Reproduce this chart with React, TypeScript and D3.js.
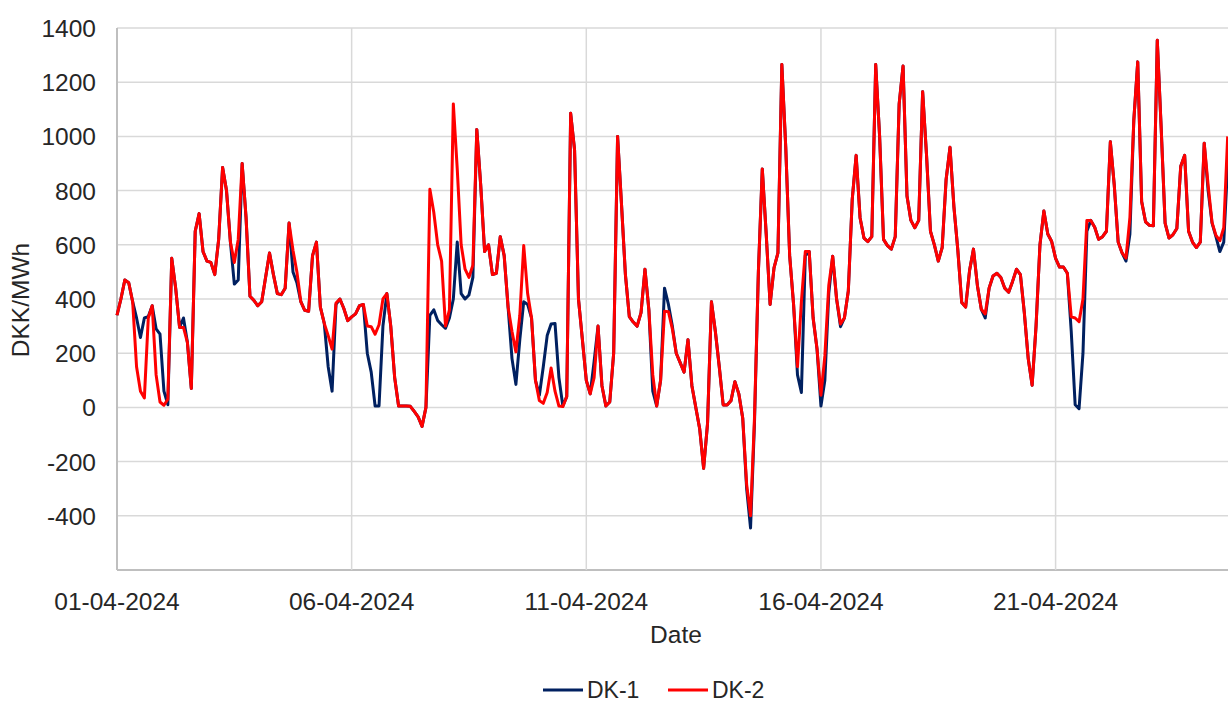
import React, { useRef, useEffect } from "react";
import * as d3 from "d3";

// two-hourly spot prices from 01-04-2024 00:00, DKK/MWh
const startDate = new Date(2024, 3, 1);
const stepHours = 2;

const dk2: number[] = [
  340, 400, 470, 460, 390, 150, 60, 35, 330, 375, 120, 20,
  8, 30, 550, 440, 295, 295, 240, 70, 650, 715, 575, 540,
  535, 490, 620, 885, 800, 610, 535, 620, 900, 700, 410, 395,
  375, 390, 480, 570, 490, 420, 416, 440, 680, 580, 500, 390,
  358, 355, 560, 610, 370, 310, 265, 215, 385, 400, 365, 320,
  334, 345, 375, 380, 300, 298, 270, 305, 400, 420, 300, 110,
  5, 5, 5, 4, -15, -35, -70, 0, 805, 720, 600, 540,
  300, 360, 1120, 880, 600, 510, 480, 525, 1025, 820, 575, 600,
  490, 495, 630, 560, 370, 280, 205, 340, 597, 420, 330, 100,
  25, 15, 55, 145, 60, 5, 3, 40, 1085, 950, 400, 250,
  100, 50, 110, 300, 80, 5, 20, 200, 1000, 750, 490, 335,
  315, 300, 350, 510, 360, 120, 5, 100, 355, 353, 290, 200,
  165, 130, 250, 80, 0, -80, -225, -60, 390, 280, 150, 9,
  9, 25, 95, 50, -40, -284, -400, -40, 500, 880, 640, 380,
  515, 570, 1265, 960, 560, 380, 150, 390, 575, 575, 330, 215,
  45, 190, 450, 558, 400, 308, 330, 430, 768, 930, 700, 625,
  612, 630, 1265, 1000, 620, 597, 584, 630, 1120, 1260, 780, 690,
  663, 690, 1165, 930, 650, 600, 540, 590, 840, 960, 740, 580,
  387, 370, 505, 584, 450, 362, 345, 440, 485, 495, 479, 440,
  425, 465, 510, 490, 350, 180, 82, 300, 600, 725, 640, 612,
  550, 518, 518, 495, 334, 330, 316, 400, 690, 690, 665, 620,
  630, 650, 980, 820, 610, 570, 551, 700, 1060, 1275, 760, 685,
  672, 670, 1355, 1030, 680, 625, 637, 660, 890, 930, 650, 610,
  590, 610, 975, 820, 683, 635, 615, 663, 1000,
];

const dk1: number[] = [
  340, 400, 470, 460, 390, 330, 258, 330, 335, 375, 290, 270,
  60, 10, 550, 440, 295, 330, 240, 70, 650, 715, 575, 540,
  535, 490, 620, 885, 800, 610, 455, 470, 900, 700, 410, 395,
  375, 390, 480, 570, 490, 420, 416, 440, 680, 500, 460, 390,
  358, 355, 560, 610, 370, 310, 150, 60, 380, 400, 365, 320,
  334, 345, 375, 380, 200, 130, 5, 5, 300, 420, 300, 110,
  5, 5, 5, 4, -15, -35, -70, 0, 340, 360, 321, 305,
  292, 330, 400, 610, 420, 400, 415, 480, 1025, 820, 575, 600,
  490, 495, 630, 560, 370, 180, 85, 250, 390, 380, 330, 100,
  45, 150, 265, 308, 310, 110, 5, 40, 1085, 950, 400, 250,
  100, 50, 170, 300, 80, 5, 20, 200, 1000, 750, 490, 335,
  315, 300, 350, 510, 360, 60, 5, 100, 440, 380, 300, 200,
  165, 130, 250, 80, 0, -80, -225, -60, 390, 280, 150, 9,
  9, 25, 95, 50, -40, -300, -445, -60, 500, 880, 640, 380,
  515, 570, 1265, 960, 560, 380, 120, 55, 560, 575, 330, 215,
  5, 100, 420, 558, 400, 298, 330, 430, 768, 930, 700, 625,
  612, 630, 1265, 1000, 620, 597, 584, 630, 1120, 1260, 780, 690,
  663, 690, 1165, 930, 650, 600, 540, 590, 840, 960, 740, 580,
  387, 370, 505, 584, 450, 362, 330, 440, 485, 495, 479, 440,
  425, 465, 510, 490, 350, 180, 82, 300, 600, 725, 640, 612,
  550, 518, 518, 495, 280, 10, -5, 200, 650, 690, 665, 620,
  630, 650, 980, 820, 610, 570, 540, 640, 1060, 1275, 760, 685,
  672, 670, 1355, 1030, 680, 625, 637, 660, 890, 930, 650, 610,
  590, 610, 975, 800, 680, 630, 575, 610, 900,
];

const yTicks = [1400, 1200, 1000, 800, 600, 400, 200, 0, -200, -400];
const seriesNames = ["DK-1", "DK-2"];
const seriesColors = ["#002060", "#FF0000"];

export default function App() {
  const svgRef = useRef<SVGSVGElement>(null);

  useEffect(() => {
    const width = 1228;
    const height = 704;
    const left = 117;
    const top = 28;
    const bottom = 570;
    const dayPx = 46.93;

    const svg = d3.select(svgRef.current);
    svg.selectAll("*").remove();
    svg.attr("width", width).attr("height", height);

    const x = d3
      .scaleTime()
      .domain([startDate, d3.timeDay.offset(startDate, 25)])
      .range([left, left + 25 * dayPx]);
    const y = d3.scaleLinear().domain([-600, 1400]).range([bottom, top]);

    const font = "'Liberation Sans', Arial, sans-serif";
    const fontSize = "24.5px";
    const textColor = "#262626";

    // horizontal grid
    svg
      .append("g")
      .selectAll("line")
      .data(d3.range(-600, 1401, 200))
      .enter()
      .append("line")
      .attr("x1", left)
      .attr("x2", width)
      .attr("y1", (d) => y(d))
      .attr("y2", (d) => y(d))
      .attr("stroke", (d) => (d === -600 ? "#bfbfbf" : "#d9d9d9"))
      .attr("stroke-width", (d) => (d === -600 ? 2 : 1.5));

    const xTicks = x.ticks(d3.timeDay.every(5)).filter((d) => x(d) < width);

    // vertical grid
    svg
      .append("g")
      .selectAll("line")
      .data(xTicks)
      .enter()
      .append("line")
      .attr("x1", (d) => x(d))
      .attr("x2", (d) => x(d))
      .attr("y1", top)
      .attr("y2", bottom)
      .attr("stroke", (d, i) => (i === 0 ? "#bfbfbf" : "#d9d9d9"))
      .attr("stroke-width", (d, i) => (i === 0 ? 2 : 1.5));

    // y tick labels
    svg
      .append("g")
      .selectAll("text")
      .data(yTicks)
      .enter()
      .append("text")
      .attr("x", 96)
      .attr("y", (d) => y(d) + 9)
      .attr("text-anchor", "end")
      .style("font-family", font)
      .style("font-size", fontSize)
      .attr("fill", textColor)
      .text((d) => d);

    // x tick labels
    const fmt = d3.timeFormat("%d-%m-%Y");
    svg
      .append("g")
      .selectAll("text")
      .data(xTicks)
      .enter()
      .append("text")
      .attr("x", (d) => x(d))
      .attr("y", 610)
      .attr("text-anchor", "middle")
      .style("font-family", font)
      .style("font-size", fontSize)
      .attr("fill", textColor)
      .text((d) => fmt(d));

    // axis titles
    svg
      .append("text")
      .attr("x", 676)
      .attr("y", 643)
      .attr("text-anchor", "middle")
      .style("font-family", font)
      .style("font-size", fontSize)
      .attr("fill", textColor)
      .text("Date");

    svg
      .append("text")
      .attr("transform", "translate(29, 300) rotate(-90)")
      .attr("text-anchor", "middle")
      .style("font-family", font)
      .style("font-size", fontSize)
      .attr("fill", textColor)
      .text("DKK/MWh");

    // lines
    const line = d3
      .line<number>()
      .x((d, i) => x(d3.timeHour.offset(startDate, i * stepHours)))
      .y((d) => y(d));

    [dk1, dk2].forEach((s, i) => {
      svg
        .append("path")
        .datum(s)
        .attr("d", line)
        .attr("fill", "none")
        .attr("stroke", seriesColors[i])
        .attr("stroke-width", 3)
        .attr("stroke-linejoin", "round");
    });

    // legend
    const legend = svg.append("g");
    const legendX = [543, 668];
    seriesNames.forEach((name, i) => {
      legend
        .append("line")
        .attr("x1", legendX[i])
        .attr("x2", legendX[i] + 40)
        .attr("y1", 690)
        .attr("y2", 690)
        .attr("stroke", seriesColors[i])
        .attr("stroke-width", 3);
      legend
        .append("text")
        .attr("x", legendX[i] + 44)
        .attr("y", 698)
        .style("font-family", font)
        .style("font-size", "23px")
        .attr("fill", textColor)
        .text(name);
    });
  }, []);

  return (
    <svg
      ref={svgRef}
      style={{ position: "absolute", left: 0, top: 0, background: "#fff" }}
    ></svg>
  );
}
